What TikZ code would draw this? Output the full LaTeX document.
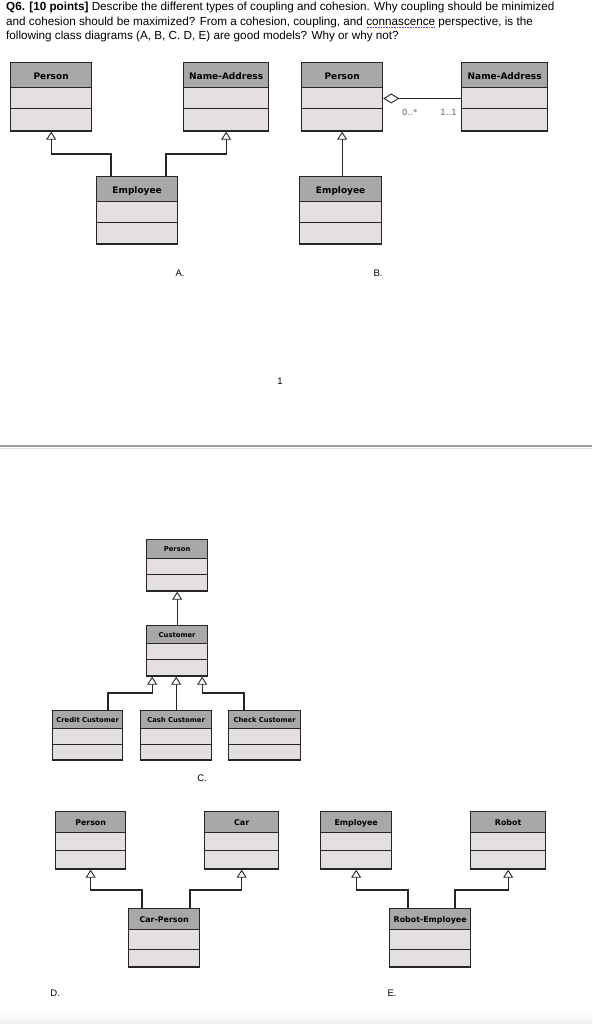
\documentclass[tikz,border=0pt]{standalone}
\usepackage{fontspec}
\setmainfont{Liberation Sans}
\newfontfamily\umlfont{DejaVu Sans}
\usetikzlibrary{shapes.multipart,arrows.meta}

\definecolor{umlhead}{HTML}{A9A7A7}
\definecolor{umlbody}{HTML}{E3E0DF}
\definecolor{umlline}{HTML}{262626}
\definecolor{multcol}{HTML}{5D6474}

% header strut (text centred) and empty compartment strut
\newcommand{\hd}[1]{\rule[-.31\dimexpr#1pt\relax]{0pt}{\dimexpr#1pt-1.5pt\relax}}
\newcommand{\cp}[1]{\rule[-3.5pt]{0pt}{\dimexpr#1pt-1.5pt\relax}}
\newcommand{\spellmark}[1]{\setbox0\hbox{#1}\rlap{\raisebox{-2.5pt}{\color{blue!75}\leaders\hbox to 1.6pt{\hss\rule{1pt}{1pt}\hss}\hskip\wd0}}#1}

\begin{document}
\begin{tikzpicture}[x=1pt,y=-1pt,
    class/.style={rectangle split, rectangle split parts=3, draw=umlline,
        line width=1.3pt, rectangle split part fill={umlhead,umlbody,umlbody},
        inner xsep=0pt, inner ysep=0pt, align=center, anchor=north west},
    classA/.style={class, text width=#1pt, font=\umlfont\fontsize{9}{10}\selectfont\bfseries},
    classC/.style={class, text width=#1pt, font=\umlfont\fontsize{6.8}{8}\selectfont\bfseries},
    classD/.style={class, text width=#1pt, font=\umlfont\fontsize{7.9}{9}\selectfont\bfseries},
    gen/.style={draw=umlline, line width=1.3pt,
        -{Triangle[width=10pt,length=8pt,fill=white,line width=0.9pt]}},
    agg/.style={draw=umlline, line width=1.3pt,
        {Diamond[width=10pt,length=16pt,fill=white,line width=0.9pt]}-},
    mult/.style={text=multcol, font=\umlfont\fontsize{8.5}{9}\selectfont, inner sep=1pt},
    diaglabel/.style={font=\fontsize{9.5}{10}\selectfont},
    qline/.style={anchor=base west, inner sep=0pt, font=\fontsize{11.7}{13}\selectfont}]

    \useasboundingbox (0,0) rectangle (592,1024);
    \fill[white] (0,0) rectangle (592,1024);
    \shade[top color=white, bottom color=gray!12] (0,1012) rectangle (592,1024);

    % Question text
    \node[qline] (q1) at (6,11) {\textbf{Q6. [10 points]} Describe the different types of coupling and cohesion. Why coupling should be minimized};
    \node[qline] (q2) at (6,25.5) {and cohesion should be maximized? From a cohesion, coupling, and \spellmark{connascence} perspective, is the};
    \node[qline] (q3) at (6,40) {following class diagrams (A, B, C. D, E) are good models? Why or why not?};

    % Diagram A
    \node[classA=81] (personA) at (10,62) {\hd{25}Person\nodepart{two}\cp{21}\nodepart{three}\cp{23}};
    \node[classA=85] (addrA) at (183,62) {\hd{25}Name-Address\nodepart{two}\cp{21}\nodepart{three}\cp{23}};
    \node[classA=81] (empA) at (96,176) {\hd{25}Employee\nodepart{two}\cp{21}\nodepart{three}\cp{22}};
    \coordinate (elbowA1) at (111,154);
    \coordinate (elbowA2) at (166,154);
    \draw[gen] (empA.north -| elbowA1) -- (elbowA1) -| (personA.south);
    \draw[gen] (empA.north -| elbowA2) -- (elbowA2) -| (addrA.south);
    \node[diaglabel] (labA) at (180,273) {A.};

    % Diagram B
    \node[classA=81] (personB) at (301,62) {\hd{25}Person\nodepart{two}\cp{21}\nodepart{three}\cp{23}};
    \node[classA=86] (addrB) at (461,62) {\hd{25}Name-Address\nodepart{two}\cp{21}\nodepart{three}\cp{23}};
    \node[classA=82] (empB) at (299,176) {\hd{25}Employee\nodepart{two}\cp{21}\nodepart{three}\cp{22}};
    \draw[gen] (empB.north -| personB.south) -- (personB.south);
    \draw[agg] ([yshift=-11pt]personB.text split east) --
        node[mult, pos=.34, below=9pt] (multB1) {0..*}
        node[mult, pos=.84, below=9pt] (multB2) {1..1}
        ([yshift=-11pt]addrB.text split west);
    \node[diaglabel] (labB) at (378,273) {B.};

    % page break
    \node[diaglabel] (pagenum) at (280,381) {1};
    \draw[gray!25, line width=1pt] (0,448) -- (592,448);
    \draw[gray!75, line width=1.2pt] (0,446) -- (592,446);

    % Diagram C
    \node[classC=61] (personC) at (146,539) {\hd{19}Person\nodepart{two}\cp{16}\nodepart{three}\cp{17}};
    \node[classC=61] (custC) at (146,625) {\hd{18}Customer\nodepart{two}\cp{16}\nodepart{three}\cp{17}};
    \node[classC=70] (creditC) at (52,710) {\hd{18}Credit Customer\nodepart{two}\cp{16}\nodepart{three}\cp{16}};
    \node[classC=71] (cashC) at (140,710) {\hd{18}Cash Customer\nodepart{two}\cp{16}\nodepart{three}\cp{16}};
    \node[classC=72] (checkC) at (228,710) {\hd{18}Check Customer\nodepart{two}\cp{16}\nodepart{three}\cp{16}};
    \coordinate (elbowC1) at (108,693);
    \coordinate (elbowC2) at (244,693);
    \draw[gen] (custC.north) -- (personC.south);
    \draw[gen] (creditC.north -| elbowC1) -- (elbowC1) -| ([xshift=-25pt]custC.south);
    \draw[gen] (cashC.north) -- (cashC.north |- custC.south);
    \draw[gen] (checkC.north -| elbowC2) -- (elbowC2) -| ([xshift=25pt]custC.south);
    \node[diaglabel] (labC) at (202,778) {C.};

    % Diagram D
    \node[classD=70] (personD) at (55,811) {\hd{21}Person\nodepart{two}\cp{18}\nodepart{three}\cp{19}};
    \node[classD=74] (carD) at (204,811) {\hd{21}Car\nodepart{two}\cp{18}\nodepart{three}\cp{19}};
    \node[classD=71] (carpersonD) at (128,908) {\hd{21}Car-Person\nodepart{two}\cp{20}\nodepart{three}\cp{18}};
    \coordinate (elbowD1) at (142,890);
    \coordinate (elbowD2) at (190,890);
    \draw[gen] (carpersonD.north -| elbowD1) -- (elbowD1) -| (personD.south);
    \draw[gen] (carpersonD.north -| elbowD2) -- (elbowD2) -| (carD.south);
    \node[diaglabel] (labD) at (55,993) {D.};

    % Diagram E
    \node[classD=71] (empE) at (320,811) {\hd{21}Employee\nodepart{two}\cp{18}\nodepart{three}\cp{19}};
    \node[classD=75] (robotE) at (470,811) {\hd{21}Robot\nodepart{two}\cp{18}\nodepart{three}\cp{19}};
    \node[classD=81] (robotempE) at (389,908) {\hd{21}Robot-Employee\nodepart{two}\cp{20}\nodepart{three}\cp{18}};
    \coordinate (elbowE1) at (408,890);
    \coordinate (elbowE2) at (455,890);
    \draw[gen] (robotempE.north -| elbowE1) -- (elbowE1) -| (empE.south);
    \draw[gen] (robotempE.north -| elbowE2) -- (elbowE2) -| (robotE.south);
    \node[diaglabel] (labE) at (392,993) {E.};

\end{tikzpicture}
\end{document}
